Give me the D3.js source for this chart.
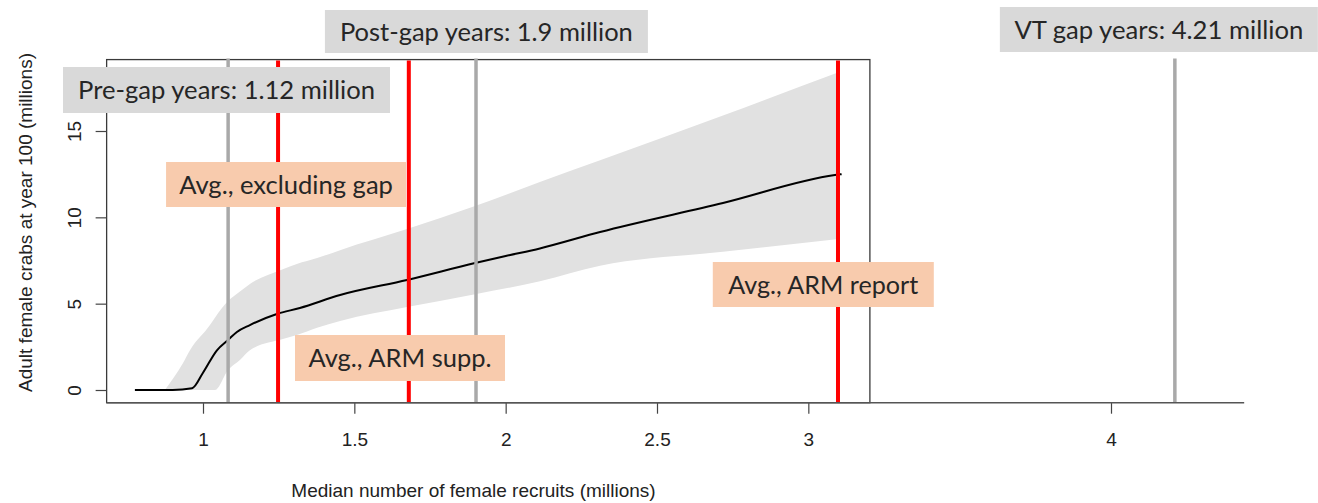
<!DOCTYPE html>
<html><head><meta charset="utf-8">
<script src="https://cdn.jsdelivr.net/npm/d3@7"></script>
<style>html,body{margin:0;padding:0;background:#fff;} svg{display:block;}</style>
</head><body>
<svg id="chart" width="1318" height="503"></svg>
<script>
// ---------------- data ----------------
const medianRecruits = [0.775, 0.90, 0.964, 1.0, 1.046, 1.083, 1.112, 1.155, 1.244, 1.32, 1.453, 1.674, 1.899, 2.0, 2.113, 2.312, 2.718, 3.088, 3.11];
const medianCrabs    = [0, 0, 0.1, 1.0, 2.3, 2.9, 3.36, 3.76, 4.4, 4.75, 5.5, 6.37, 7.35, 7.76, 8.2, 9.15, 10.83, 12.45, 12.5];

const bandRecruits = [0.874, 0.934, 0.957, 1.023, 1.04, 1.083, 1.122, 1.155, 1.264, 1.31, 1.377, 1.453, 1.674, 1.899, 2.113, 2.312, 2.718, 3.10];
const bandUpper    = [0, 1.56, 2.3, 3.76, 4.2, 5.15, 5.7, 6.14, 7.0, 7.3, 7.64, 8.1, 9.32, 10.65, 12.04, 13.3, 15.9, 18.4];
const bandLower    = [0, 0, 0, 0, 0, 1.16, 1.74, 2.3, 2.95, 3.18, 3.6, 4.0, 4.8, 5.55, 6.3, 7.2, 8.0, 8.75];

const grayLineValues = [1.083, 1.902, 4.211];   // pre-gap, post-gap, VT gap
const redLineValues  = [1.248, 1.68, 3.098];    // avg excluding gap, ARM supp., ARM report

const xTickValues = [1, 1.5, 2, 2.5, 3, 4];
const yTickValues = [0, 5, 10, 15];
const xAxisEnd = 4.44;

const grayLabels = ["Pre-gap years: 1.12 million", "Post-gap years: 1.9 million", "VT gap years: 4.21 million"];
const redLabels  = ["Avg., excluding gap", "Avg., ARM supp.", "Avg., ARM report"];

const xTitle = "Median number of female recruits (millions)";
const yTitle = "Adult female crabs at year 100 (millions)";

// ---------------- layout ----------------
const svg = d3.select("#chart");
const x = d3.scaleLinear().domain([1, 4]).range([203, 1111]);
const y = d3.scaleLinear().domain([0, 15]).range([390, 131]);

// R-style usr range: data extent padded 4%
const xAll = medianRecruits.concat(bandRecruits);
const [xmin, xmax] = d3.extent(xAll);
const xpad = (xmax - xmin) * 0.04;
const ymax = d3.max(bandUpper), ymin = 0;
const ypad = (ymax - ymin) * 0.04;
const frame = { x0: x(xmin - xpad), x1: x(xmax + xpad), y0: y(ymax + ypad), y1: y(ymin - ypad) };

const axisFont = "'Liberation Sans', Arial, Helvetica, sans-serif";
const labelFont = "Lato, 'Open Sans', sans-serif";

// band
const band = bandRecruits.map((r, i) => ({ r, lo: bandLower[i], hi: bandUpper[i] }));
svg.append("path").datum(band)
  .attr("d", d3.area().x(d => x(d.r)).y0(d => y(d.lo)).y1(d => y(d.hi)).curve(d3.curveMonotoneX))
  .attr("fill", "#e1e1e1");

// median line
const med = medianRecruits.map((r, i) => ({ r, v: medianCrabs[i] }));
svg.append("path").datum(med)
  .attr("d", d3.line().x(d => x(d.r)).y(d => y(d.v)).curve(d3.curveMonotoneX))
  .attr("fill", "none").attr("stroke", "#000").attr("stroke-width", 2);

// frame
svg.append("rect")
  .attr("x", frame.x0).attr("y", frame.y0)
  .attr("width", frame.x1 - frame.x0).attr("height", frame.y1 - frame.y0)
  .attr("fill", "none").attr("stroke", "#3a3a3a").attr("stroke-width", 1.3);

// vertical reference lines
svg.selectAll("line.gray").data(grayLineValues).enter().append("line")
  .attr("class", "gray")
  .attr("x1", d => x(d)).attr("x2", d => x(d))
  .attr("y1", frame.y0 - 1).attr("y2", frame.y1)
  .attr("stroke", "#a9a9a9").attr("stroke-width", 3.5);
svg.selectAll("line.red").data(redLineValues).enter().append("line")
  .attr("class", "red")
  .attr("x1", d => x(d)).attr("x2", d => x(d))
  .attr("y1", frame.y0 + 1).attr("y2", frame.y1)
  .attr("stroke", "#ff0000").attr("stroke-width", 4);

// x axis
const gx = svg.append("g").attr("transform", `translate(0,${frame.y1})`)
  .call(d3.axisBottom(x).tickValues(xTickValues).tickSize(11).tickPadding(19).tickFormat(d3.format("")));
gx.select(".domain").remove();
gx.selectAll(".tick line").attr("stroke", "#444").attr("stroke-width", 1.2);
gx.selectAll(".tick text").attr("font-family", axisFont).attr("font-size", 19).attr("fill", "#222");
svg.append("line")
  .attr("x1", frame.x0).attr("x2", x(xAxisEnd))
  .attr("y1", frame.y1).attr("y2", frame.y1)
  .attr("stroke", "#555").attr("stroke-width", 1.6);

// y axis
const gy = svg.append("g").attr("transform", `translate(${frame.x0},0)`)
  .call(d3.axisLeft(y).tickValues(yTickValues).tickSize(11).tickFormat(d3.format("")));
gy.select(".domain").remove();
gy.selectAll(".tick line").attr("stroke", "#444").attr("stroke-width", 1.2);
gy.selectAll(".tick text")
  .attr("x", null).attr("dy", null)
  .attr("transform", "translate(-26,0) rotate(-90)")
  .attr("text-anchor", "middle")
  .attr("font-family", axisFont).attr("font-size", 19).attr("fill", "#222");

// axis titles
svg.append("text").text(xTitle)
  .attr("x", 473.5).attr("y", 497).attr("text-anchor", "middle")
  .attr("font-family", axisFont).attr("font-size", 19).attr("fill", "#222");
svg.append("text").text(yTitle)
  .attr("transform", "translate(32,222.5) rotate(-90)").attr("text-anchor", "middle")
  .attr("font-family", axisFont).attr("font-size", 19).attr("fill", "#222");

// annotation boxes (layout: offset from the referenced line, box size, text width)
const annLayout = [
  { text: grayLabels[0], ref: grayLineValues[0], dx: -1.6, top: 67,  w: 327, h: 46, tw: 297, fill: "#d9d9d9" },
  { text: grayLabels[1], ref: grayLineValues[1], dx: 10.4, top: 10,  w: 323, h: 43, tw: 293, fill: "#d9d9d9" },
  { text: grayLabels[2], ref: grayLineValues[2], dx: -16,  top: 7,   w: 318, h: 45, tw: 289, fill: "#d9d9d9" },
  { text: redLabels[0],  ref: redLineValues[0],  dx: 8,    top: 162, w: 240, h: 45, tw: 214, fill: "#f8cbad" },
  { text: redLabels[1],  ref: redLineValues[1],  dx: -8.8, top: 335, w: 210, h: 46, tw: 183, fill: "#f8cbad" },
  { text: redLabels[2],  ref: redLineValues[2],  dx: -14.7,top: 262, w: 221, h: 45, tw: 190, fill: "#f8cbad" }
];
const ann = svg.selectAll("g.ann").data(annLayout).enter().append("g").attr("class", "ann");
ann.append("rect")
  .attr("x", d => x(d.ref) + d.dx - d.w / 2).attr("y", d => d.top)
  .attr("width", d => d.w).attr("height", d => d.h)
  .attr("fill", d => d.fill);
ann.append("text")
  .text(d => d.text)
  .attr("x", d => x(d.ref) + d.dx).attr("text-anchor", "middle")
  .attr("font-family", labelFont).attr("font-size", 26).attr("fill", "#262626")
  .each(function (d) {
    const len = this.getComputedTextLength();
    const fs = 26 * d.tw / len;
    d3.select(this).attr("font-size", fs).attr("y", d.top + d.h / 2 + fs * 0.36);
  });
</script>
</body></html>
